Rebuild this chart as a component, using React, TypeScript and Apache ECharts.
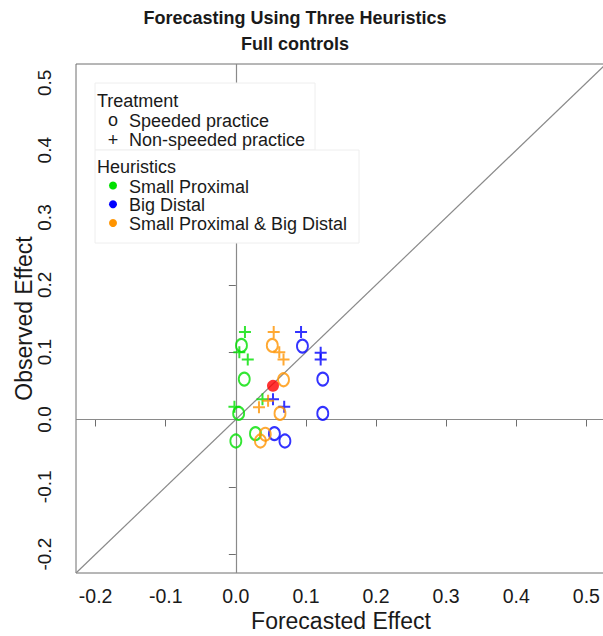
import React, { useEffect, useRef } from "react";
import * as echarts from "echarts";

// ---- data ----
const xTickValues = [-0.2, -0.1, 0.0, 0.1, 0.2, 0.3, 0.4, 0.5];
const yTickValues = [-0.2, -0.1, 0.0, 0.1, 0.2, 0.3, 0.4, 0.5];
const axisMin = -0.228;
const axisMax = 0.528;

// Small Proximal (green)
const spSpeededX = [0.008, 0.012, 0.004, 0.028, 0.0];
const spSpeededY = [0.11, 0.06, 0.009, -0.021, -0.032];
const spNonX = [0.013, 0.005, 0.017, 0.038, -0.002];
const spNonY = [0.13, 0.1, 0.089, 0.03, 0.019];

// Big Distal (blue)
const bdSpeededX = [0.095, 0.124, 0.124, 0.055, 0.07];
const bdSpeededY = [0.109, 0.06, 0.009, -0.021, -0.032];
const bdNonX = [0.093, 0.121, 0.121, 0.053, 0.069];
const bdNonY = [0.13, 0.099, 0.089, 0.03, 0.019];

// Small Proximal & Big Distal (orange)
const bothSpeededX = [0.052, 0.068, 0.063, 0.042, 0.035];
const bothSpeededY = [0.11, 0.059, 0.009, -0.022, -0.032];
const bothNonX = [0.054, 0.062, 0.068, 0.046, 0.033];
const bothNonY = [0.13, 0.1, 0.089, 0.028, 0.018];

// Overall mean (red)
const meanX = [0.053];
const meanY = [0.05];

const titleLines = ["Forecasting Using Three Heuristics", "Full controls"];
const treatmentLabels = ["Speeded practice", "Non-speeded practice"];
const heuristicLabels = ["Small Proximal", "Big Distal", "Small Proximal & Big Distal"];

const GREEN = "#00E000";
const BLUE = "#0000FF";
const ORANGE = "#FF9400";
const RED = "#FF0000";
const FONT = "'Liberation Sans', Arial, Helvetica, sans-serif";
const TEXT = "#1a1a1a";
const LINE = "#8a8a8a";

const zip = (xs: number[], ys: number[]) => xs.map((x, i) => [x, ys[i]]);

const PLUS = "path://M0,5L10,5M5,0L5,10";

function circleSeries(name: string, xs: number[], ys: number[], color: string) {
  return {
    name,
    type: "scatter",
    data: zip(xs, ys),
    symbol: "circle",
    symbolSize: [11, 13],
    itemStyle: { color: "rgba(0,0,0,0)", borderColor: color, borderWidth: 2 },
    z: 5,
  };
}

function plusSeries(name: string, xs: number[], ys: number[], color: string) {
  return {
    name,
    type: "scatter",
    data: zip(xs, ys),
    symbol: PLUS,
    symbolSize: [12, 12],
    itemStyle: { color: "rgba(0,0,0,0)", borderColor: color, borderWidth: 2 },
    z: 5,
  };
}

export default function App() {
  const ref = useRef<HTMLDivElement>(null);

  useEffect(() => {
    if (!ref.current) return;
    const chart = echarts.init(ref.current, undefined, { renderer: "svg" });

    const legendX = 95;
    const graphic: any[] = [
      {
        type: "text",
        style: {
          text: titleLines[0],
          x: 295,
          y: 18,
          font: `bold 18px ${FONT}`,
          fill: TEXT,
          align: "center",
          verticalAlign: "middle",
          textAlign: "center",
          textVerticalAlign: "middle",
        },
      },
      {
        type: "text",
        style: {
          text: titleLines[1],
          x: 295,
          y: 44,
          font: `bold 18px ${FONT}`,
          fill: TEXT,
          align: "center",
          verticalAlign: "middle",
          textAlign: "center",
          textVerticalAlign: "middle",
        },
      },
      {
        type: "rect",
        shape: { x: legendX, y: 83, width: 220, height: 67 },
        style: { fill: "#fff", stroke: "#eeeeee", lineWidth: 1 },
        z: 10,
      },
      {
        type: "rect",
        shape: { x: legendX, y: 150, width: 264, height: 93 },
        style: { fill: "#fff", stroke: "#eeeeee", lineWidth: 1 },
        z: 10,
      },
    ];

    const addText = (text: string, x: number, y: number, extra: any = {}) => {
      graphic.push({
        type: "text",
        z: 11,
        style: {
          text,
          x,
          y,
          font: `18px ${FONT}`,
          fill: TEXT,
          align: "left",
          verticalAlign: "middle",
          textAlign: "left",
          textVerticalAlign: "middle",
          ...extra,
        },
      });
    };

    addText("Treatment", 97, 100.5);
    addText("o", 113, 119.5, { align: "center", textAlign: "center" });
    addText(treatmentLabels[0], 129, 120.5);
    addText("+", 113, 139.5, { align: "center", textAlign: "center" });
    addText(treatmentLabels[1], 129, 139.5);
    addText("Heuristics", 97, 166.5);
    const dotColors = [GREEN, BLUE, ORANGE];
    const dotYs = [186.5, 205.2, 224];
    heuristicLabels.forEach((lab, i) => {
      graphic.push({
        type: "circle",
        z: 11,
        shape: { cx: 113, cy: dotYs[i] - 1, r: 4 },
        style: { fill: dotColors[i] },
      });
      addText(lab, 129, dotYs[i]);
    });

    const option: any = {
      animation: false,
      backgroundColor: "#fff",
      textStyle: { fontFamily: FONT },
      grid: {
        left: 76,
        top: 64,
        right: -3,
        bottom: 63,
        show: true,
        borderColor: "#6e6e6e",
        borderWidth: 1,
        backgroundColor: "transparent",
        containLabel: false,
        outerBoundsMode: "none",
      },
      xAxis: {
        type: "value",
        min: axisMin,
        max: axisMax,
        name: "Forecasted Effect",
        nameLocation: "middle",
        nameGap: 36,
        nameMoveOverlap: false,
        nameTextStyle: { fontSize: 23, color: TEXT, fontFamily: FONT },
        axisLine: { show: false },
        splitLine: { show: false },
        axisTick: {
          show: true,
          inside: false,
          length: 7,
          customValues: xTickValues,
          lineStyle: { color: "#6e6e6e" },
        },
        axisLabel: {
          customValues: xTickValues,
          formatter: (v: number) => v.toFixed(1),
          fontSize: 19.5,
          color: TEXT,
          margin: 13,
          fontFamily: FONT,
        },
      },
      yAxis: {
        type: "value",
        min: axisMin,
        max: axisMax,
        name: "Observed Effect",
        nameLocation: "middle",
        nameGap: 41,
        nameMoveOverlap: false,
        nameTextStyle: { fontSize: 23, color: TEXT, fontFamily: FONT },
        axisLine: { show: false },
        splitLine: { show: false },
        axisTick: {
          show: true,
          inside: false,
          length: 7,
          customValues: yTickValues,
          lineStyle: { color: "#6e6e6e" },
        },
        axisLabel: {
          customValues: yTickValues,
          formatter: (v: number) => v.toFixed(1),
          fontSize: 19,
          color: TEXT,
          rotate: 90,
          margin: 22,
          fontFamily: FONT,
        },
      },
      series: [
        {
          name: "ref",
          type: "line",
          data: [
            [axisMin, axisMin],
            [axisMax, axisMax],
          ],
          showSymbol: false,
          symbol: "none",
          lineStyle: { color: LINE, width: 1.2 },
          silent: true,
          z: 1,
          markLine: {
            silent: true,
            symbol: ["none", "none"],
            label: { show: false },
            lineStyle: { color: LINE, width: 1.2, type: "solid" },
            data: [{ xAxis: 0 }, { yAxis: 0 }],
          },
        },
        circleSeries("SP speeded", spSpeededX, spSpeededY, GREEN),
        plusSeries("SP non-speeded", spNonX, spNonY, GREEN),
        circleSeries("BD speeded", bdSpeededX, bdSpeededY, BLUE),
        plusSeries("BD non-speeded", bdNonX, bdNonY, BLUE),
        circleSeries("Both speeded", bothSpeededX, bothSpeededY, ORANGE),
        plusSeries("Both non-speeded", bothNonX, bothNonY, ORANGE),
        {
          name: "Mean",
          type: "scatter",
          data: zip(meanX, meanY),
          symbol: "circle",
          symbolSize: 12,
          itemStyle: { color: RED },
          z: 6,
        },
      ],
      graphic,
    };

    chart.setOption(option);
    return () => chart.dispose();
  }, []);

  return (
    <div
      ref={ref}
      style={{ position: "fixed", left: 0, top: 0, width: 603, height: 636 }}
    />
  );
}
